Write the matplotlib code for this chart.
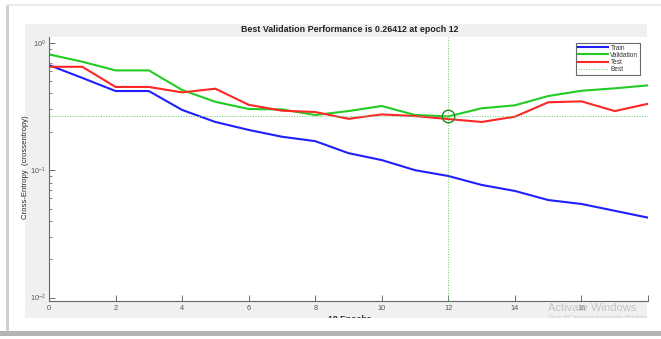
import numpy as np
import matplotlib
matplotlib.use("Agg")
import matplotlib.pyplot as plt
from matplotlib.patches import Rectangle

plt.rcParams["font.family"] = ["Liberation Sans", "DejaVu Sans"]

# ── data ────────────────────────────────────────────────────────────
epochs = list(range(19))
train = [0.668, 0.53, 0.418, 0.418, 0.297, 0.239, 0.207, 0.183, 0.169,
         0.136, 0.12, 0.10, 0.090, 0.0766, 0.0687, 0.0583, 0.0543, 0.048, 0.0424]
valid = [0.811, 0.71, 0.607, 0.607, 0.426, 0.344, 0.302, 0.300, 0.271,
         0.291, 0.319, 0.271, 0.26412, 0.306, 0.323, 0.382, 0.42, 0.439, 0.463]
test = [0.648, 0.648, 0.45, 0.45, 0.408, 0.436, 0.326, 0.293, 0.286,
        0.253, 0.274, 0.266, 0.252, 0.239, 0.263, 0.341, 0.347, 0.291, 0.332]
best_epoch = 12
best_perf = 0.26412
xticks = list(range(0, 19, 2))
xticklabels = [str(t) if t < 18 else "" for t in xticks]

W, H = 661, 339
fig = plt.figure(figsize=(W / 100, H / 100), dpi=100)
fig.patch.set_facecolor("white")

def fx(px):
    return px / W

def fy(py):
    return 1 - py / H

# ── screenshot frame + gray matlab panel ───────────────────────────
fig.add_artist(Rectangle((0, fy(336)), 1, fy(331) - fy(336), transform=fig.transFigure,
                         facecolor="#b4b4b4", edgecolor="none", zorder=0))
fig.add_artist(Rectangle((fx(6), fy(331)), fx(3), fy(6) - fy(331), transform=fig.transFigure,
                         facecolor="#cfcfcf", edgecolor="none", zorder=0))
fig.add_artist(Rectangle((fx(6), fy(6)), 1, fy(4) - fy(6), transform=fig.transFigure,
                         facecolor="#ececec", edgecolor="none", zorder=0))
panel = Rectangle((fx(25), fy(318)), fx(647) - fx(25), fy(24) - fy(318),
                  transform=fig.transFigure, facecolor="#f0f0f0", edgecolor="none", zorder=0)
fig.add_artist(panel)

# ── axes ─────────────────────────────────────────────────────────────
ax = fig.add_axes([fx(49), fy(301), fx(648) - fx(49), fy(37) - fy(301)])
ax.set_facecolor("white")
ax.plot(epochs, train, color="#2020ff", lw=1.5, label="Train")
ax.plot(epochs, valid, color="#22cc22", lw=1.5, label="Validation")
ax.plot(epochs, test, color="#ff2626", lw=1.5, label="Test")
ax.axhline(best_perf, color="#66cc66", lw=0.7, ls=":", label="Best")
ax.axvline(best_epoch, color="#66cc66", lw=0.7, ls=":")
ax.plot([best_epoch], [best_perf], "o", mfc="none", mec="#1f8a1f", ms=9, mew=1.0)

ax.set_yscale("log")
ax.set_xlim(0, 18)
ax.set_ylim(0.0094, 1.11)
ax.set_xticks(xticks)
ax.set_xticklabels(xticklabels)
ax.tick_params(axis="both", which="both", direction="in", colors="#555555",
               labelsize=5.3, labelcolor="#555555")
ax.tick_params(axis="both", which="major", length=4, width=0.6)
ax.tick_params(axis="y", which="minor", length=2.5, width=0.5)
ax.tick_params(axis="x", pad=3)
ax.tick_params(axis="y", pad=2)
for s in ["top", "right"]:
    ax.spines[s].set_visible(False)
for s in ["left", "bottom"]:
    ax.spines[s].set_color("#666666")
    ax.spines[s].set_linewidth(0.8)

leg = ax.legend(loc="upper right", fontsize=4.7, frameon=True, fancybox=False,
                handlelength=4.6, handletextpad=0.4, labelspacing=0.02,
                borderpad=0.25, borderaxespad=0.3, bbox_to_anchor=(0.99, 0.985))
leg.get_frame().set_edgecolor("#444444")
leg.get_frame().set_linewidth(0.8)
for t in leg.get_texts():
    t.set_color("#333333")

# ── texts ────────────────────────────────────────────────────────────
fig.text(fx(350), fy(30), f"Best Validation Performance is {best_perf} at epoch {best_epoch}",
         ha="center", va="center", fontsize=6.4, fontweight="bold", color="#222222")
fig.text(fx(26), fy(167), "Cross-Entropy  (crossentropy)", rotation=90,
         ha="center", va="center", fontsize=5.6, color="#222222")
xl = fig.text(fx(350), fy(319), "18 Epochs", ha="center", va="center",
              fontsize=6.2, fontweight="bold", color="#333333")
xl.set_clip_path(panel)
wm1 = fig.text(fx(548), fy(308), "Activate Windows", ha="left", va="center",
               fontsize=8, color="#c4c4c4", zorder=0.5)
wm2 = fig.text(fx(548), fy(318), "Go to PC settings to activate Windows.", ha="left",
               va="center", fontsize=4.2, color="#c8c8c8")
wm2.set_clip_path(panel)

fig.savefig("out.png", dpi=100, facecolor=fig.get_facecolor())
